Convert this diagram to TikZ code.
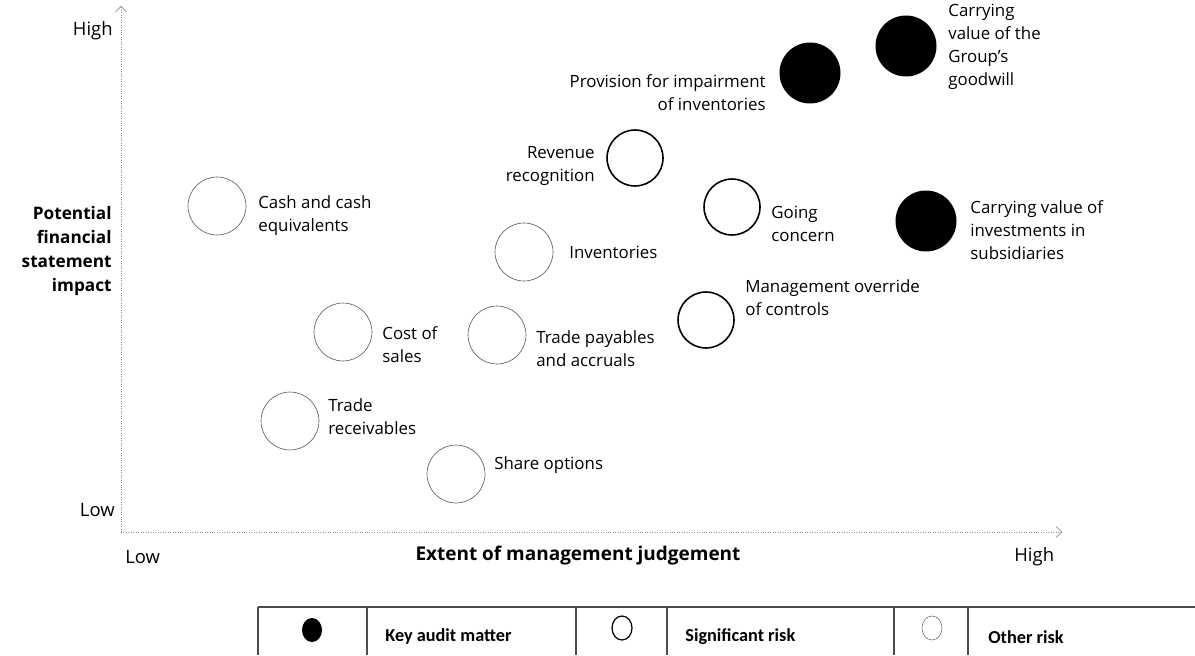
\documentclass[tikz,border=0pt]{standalone}
\usepackage{fontspec}
\setmainfont{Open Sans}
\newfontfamily\legendfont{Carlito}
\usetikzlibrary{arrows.meta,shapes.geometric}

\tikzset{
  keyaudit/.style={circle,fill=black,inner sep=0pt,minimum size=1.22cm},
  sigrisk/.style={circle,draw=black,line width=0.9pt,inner sep=0pt,minimum size=1.12cm},
  otherrisk/.style={circle,draw=black!65,line width=0.35pt,inner sep=0pt,minimum size=1.16cm},
  lbl/.style={font=\fontsize{9.6}{13}\selectfont,inner sep=0pt},
  axlbl/.style={font=\fontsize{9.8}{13.6}\selectfont\bfseries,inner sep=0pt},
  axtick/.style={font=\fontsize{10.5}{12}\selectfont,inner sep=0pt},
  axis/.style={black!45,densely dotted,line width=0.4pt,-{Straight Barb[length=3pt]}},
  legtext/.style={font=\legendfont\fontsize{10.4}{13}\selectfont\bfseries,anchor=west,inner sep=0pt},
  legline/.style={black!70,line width=0.6pt},
  legicon/.style={ellipse,inner sep=0pt,minimum width=0.4cm,minimum height=0.48cm}
}

\begin{document}
\begin{tikzpicture}[x=0.02cm,y=-0.02cm]
\useasboundingbox (0,0) rectangle (1195,655);
%
% axes
\coordinate (origin) at (121,532);
\coordinate (ytop) at (121,6);
\coordinate (xend) at (1062,532);
\path[draw,axis] (origin) -- (ytop);
\path[draw,axis] (origin) -- (xend);
%
\node[axtick,anchor=east] (yhigh) at (113,31) {High};
\node[axtick,anchor=east] (ylow) at (115,510) {Low};
\node[axtick,anchor=west] (xlow) at (125,557) {Low};
\node[axtick,anchor=west] (xhigh) at (1014,557) {High};
\node[axlbl,align=right,anchor=east] (yname) at (112,251) {Potential\\financial\\statement\\impact};
\node[axlbl,font=\fontsize{10.8}{13}\selectfont\bfseries] (xname) at (578,556) {Extent of management judgement};
%
% key audit matters
\node[keyaudit] (impair) at (810,73) {};
\node[keyaudit] (goodwill) at (906,46) {};
\node[keyaudit] (invest) at (926,221) {};
%
% significant risks
\node[sigrisk] (revenue) at (635,158) {};
\node[sigrisk] (going) at (732,207) {};
\node[sigrisk] (override) at (706,320) {};
%
% other risks
\node[otherrisk] (cash) at (217,206) {};
\node[otherrisk] (inventories) at (524,252) {};
\node[otherrisk] (cost) at (343,332) {};
\node[otherrisk] (payables) at (497,335) {};
\node[otherrisk] (receivables) at (290,421) {};
\node[otherrisk] (shares) at (456,474) {};
%
% labels
\node[lbl,align=right,anchor=east] (impairtxt) at (766,93) {Provision for impairment\\of inventories};
\node[lbl,align=left,anchor=west] (goodwilltxt) at (948,47) {Carrying\\value of the\\Group's\\goodwill};
\node[lbl,align=left,anchor=west] (investtxt) at (970,230) {Carrying value of\\investments in\\subsidiaries};
\node[lbl,align=right,anchor=east] (revenuetxt) at (595,166) {Revenue\\recognition};
\node[lbl,align=left,anchor=west] (goingtxt) at (771,224) {Going\\concern};
\node[lbl,align=left,anchor=west] (overridetxt) at (745,298) {Management override\\of controls};
\node[lbl,align=left,anchor=west] (cashtxt) at (258,216) {Cash and cash\\equivalents};
\node[lbl,align=left,anchor=west] (inventoriestxt) at (569,252) {Inventories};
\node[lbl,align=left,anchor=west] (costtxt) at (382,345) {Cost of\\sales};
\node[lbl,align=left,anchor=west] (payablestxt) at (536,349) {Trade payables\\and accruals};
\node[lbl,align=left,anchor=west] (receivablestxt) at (328,417) {Trade\\receivables};
\node[lbl,align=left,anchor=west] (sharestxt) at (494,465) {Share options};
%
% legend
\path[draw,legline] (258,607) -- (1195,607);
\foreach \xx in {258,367,576,667,894,968} {
  \path[draw,legline] (\xx,607) -- (\xx,655);
}
\node[legicon,fill=black] (legkey) at (312,630) {};
\node[legicon,draw=black,line width=0.7pt] (legsig) at (622,628) {};
\node[legicon,draw=black!60,line width=0.3pt] (legother) at (932,628) {};
\node[legtext] (legkeytxt) at (385,637) {Key audit matter};
\node[legtext] (legsigtxt) at (685,637) {Significant risk};
\node[legtext] (legothertxt) at (988,637) {Other risk};
\end{tikzpicture}
\end{document}
